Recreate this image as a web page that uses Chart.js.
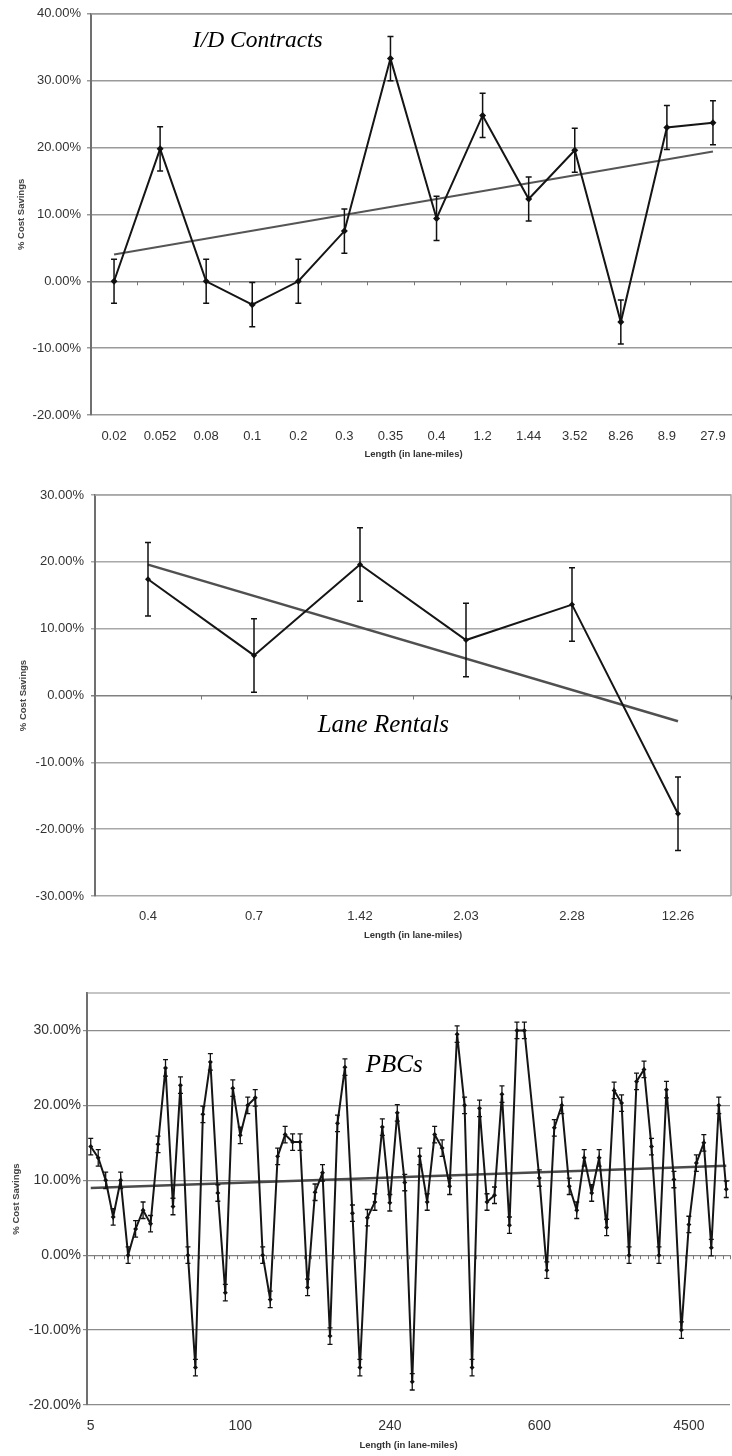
<!DOCTYPE html>
<html>
<head>
<meta charset="utf-8">
<title>% Cost Savings by Length</title>
<script src="https://cdn.jsdelivr.net/npm/chart.js@4.4.1/dist/chart.umd.min.js"></script>
<style>
  html, body { margin: 0; padding: 0; background: #fff; overflow: hidden; }
  .panel { position: absolute; left: 0; width: 732px; overflow: hidden; }
</style>
</head>
<body>
<div class="panel" style="top:0;height:464px"><canvas id="idChart" width="740" height="464"></canvas></div>
<div class="panel" style="top:480px;height:464px"><canvas id="laneChart" width="735" height="464"></canvas></div>
<div class="panel" style="top:975px;height:479px"><canvas id="pbcChart" width="734" height="479"></canvas></div>
<script>
// I/D contracts
const idCategories = ['0.02', '0.052', '0.08', '0.1', '0.2', '0.3', '0.35', '0.4', '1.2', '1.44', '3.52', '8.26', '8.9', '27.9'];
const idSavings = [0, 19.8, 0, -3.5, 0, 7.5, 33.3, 9.4, 24.8, 12.3, 19.6, -6.1, 23.0, 23.7];
const idErrorBar = 3.3;
const idYTicks = [-20, -10, 0, 10, 20, 30, 40];

// Lane rentals
const laneCategories = ['0.4', '0.7', '1.42', '2.03', '2.28', '12.26'];
const laneSavings = [17.4, 6.0, 19.6, 8.3, 13.6, -17.7];
const laneErrorBar = 5.5;
const laneYTicks = [-30, -20, -10, 0, 10, 20, 30];

// PBCs (only every 20th length is labelled on the axis)
const pbcTickLabels = ['5', '100', '240', '600', '4500'];
const pbcTickStep = 20;
const pbcSavings = [
  14.5, 13.0, 10.0, 5.1, 10.0, 0, 3.5, 6.0, 4.2, 14.8,
  25.0, 6.5, 22.7, 0, -15.0, 18.8, 25.8, 8.3, -5.0, 22.3,
  16.0, 20.0, 21.0, 0, -5.9, 13.2, 16.1, 15.1, 15.1, -4.3,
  8.4, 11.0, -10.8, 17.6, 25.1, 5.6, -15.0, 5.0, 7.1, 17.1,
  7.0, 19.0, 9.7, -16.9, 13.2, 7.1, 16.1, 14.3, 9.2, 29.5,
  20.0, -15.0, 19.6, 7.1, 8.0, 21.5, 4.0, 30.0, 30.0, null,
  10.3, -2.0, 17.0, 20.0, 9.2, 6.0, 13.0, 8.3, 13.0, 3.7,
  22.0, 20.3, 0, 23.2, 24.8, 14.5, 0, 22.1, 10.1, -10.0,
  4.1, 12.3, 15.0, 1.0, 20.0, 8.8
];
const pbcErrorBar = 1.1;
const pbcYTicks = [-20, -10, 0, 10, 20, 30];
const pbcCategories = pbcSavings.map((_, i) => i % pbcTickStep === 0 ? pbcTickLabels[i / pbcTickStep] : '');

// linear trendline over the category index, like Excel's; only the two ends are kept
function trendEnds(values) {
  const pts = values.map((v, i) => [i, v]).filter(p => p[1] != null);
  const n = pts.length;
  const mx = pts.reduce((s, p) => s + p[0], 0) / n;
  const my = pts.reduce((s, p) => s + p[1], 0) / n;
  let sxy = 0, sxx = 0;
  pts.forEach(([x, y]) => { sxy += (x - mx) * (y - my); sxx += (x - mx) * (x - mx); });
  const b = sxy / sxx, a = my - b * mx;
  return values.map((v, i) => (i === 0 || i === values.length - 1) ? a + b * i : null);
}

// error bars, frame, ticks on the zero line and the italic caption
const extras = {
  id: 'extras',
  beforeDatasetsDraw(chart, args, o) {
    const {ctx, chartArea: a, scales: {x, y}} = chart;
    ctx.save();
    ctx.strokeStyle = o.frameColor;
    ctx.lineWidth = o.frameWidth;
    ctx.beginPath();
    ctx.moveTo(a.left, a.top); ctx.lineTo(a.right, a.top);
    if (o.rightBorder) { ctx.lineTo(a.right, a.bottom); }
    ctx.stroke();
    const y0 = y.getPixelForValue(0);
    const step = x.getPixelForValue(1) - x.getPixelForValue(0);
    const n = chart.data.labels.length;
    ctx.strokeStyle = '#777';
    ctx.lineWidth = 1;
    ctx.beginPath();
    for (let i = 0; i <= n; i++) {
      const bx = Math.round(x.getPixelForValue(i) - step / 2) + 0.5;
      ctx.moveTo(bx, y0); ctx.lineTo(bx, y0 + 4);
    }
    ctx.stroke();
    ctx.restore();
  },
  afterDatasetsDraw(chart, args, o) {
    const {ctx, scales: {x, y}} = chart;
    const data = chart.data.datasets[0].data;
    ctx.save();
    ctx.strokeStyle = '#111';
    ctx.lineWidth = o.barWidth;
    ctx.beginPath();
    data.forEach((v, i) => {
      if (v == null) return;
      const px = x.getPixelForValue(i);
      const top = y.getPixelForValue(v + o.error);
      const bot = y.getPixelForValue(v - o.error);
      ctx.moveTo(px, top); ctx.lineTo(px, bot);
      ctx.moveTo(px - o.cap, top); ctx.lineTo(px + o.cap, top);
      ctx.moveTo(px - o.cap, bot); ctx.lineTo(px + o.cap, bot);
    });
    ctx.stroke();
    ctx.restore();
  },
  afterDraw(chart, args, o) {
    const {ctx, scales: {x, y}} = chart;
    ctx.save();
    ctx.font = 'italic ' + o.noteSize + 'px "Liberation Serif", "Times New Roman", serif';
    ctx.fillStyle = '#000';
    ctx.textAlign = 'center';
    ctx.textBaseline = 'alphabetic';
    ctx.fillText(o.note, x.getPixelForValue(o.noteAt[0]), y.getPixelForValue(o.noteAt[1]));
    ctx.restore();
  }
};

Chart.defaults.font.family = '"Liberation Sans", Arial, sans-serif';
Chart.defaults.color = '#333';

function makeChart(id, c) {
  return new Chart(document.getElementById(id), {
    type: 'line',
    data: {
      labels: c.categories,
      datasets: [
        {
          data: c.values,
          borderColor: '#151515',
          borderWidth: c.lineWidth,
          pointStyle: 'rectRot',
          pointRadius: c.pointRadius,
          pointBackgroundColor: '#111',
          pointBorderColor: '#111',
          pointBorderWidth: 0,
          spanGaps: true,
          tension: 0
        },
        {
          data: trendEnds(c.values),
          borderColor: c.trendColor,
          borderWidth: c.trendWidth,
          pointRadius: 0,
          spanGaps: true
        }
      ]
    },
    options: {
      responsive: false,
      animation: false,
      events: [],
      layout: { padding: { top: c.padTop, right: c.padRight, bottom: 0, left: 0 } },
      plugins: {
        legend: { display: false },
        tooltip: { enabled: false },
        extras: {
          error: c.error, cap: c.cap, barWidth: c.barWidth,
          frameColor: c.gridColor, frameWidth: c.gridWidth, rightBorder: c.rightBorder,
          note: c.note, noteAt: c.noteAt, noteSize: c.noteSize
        }
      },
      scales: {
        x: {
          type: 'category',
          offset: true,
          grid: { display: false },
          border: { display: false },
          ticks: { autoSkip: false, maxRotation: 0, padding: c.xTickPad, font: { size: c.tickSize }, color: '#333' },
          title: { display: true, text: 'Length (in lane-miles)', color: '#333',
                   font: { size: 9.5, weight: 'bold' }, padding: { top: 0, bottom: c.xTitlePad } },
          afterFit: s => { s.height = c.xHeight; }
        },
        y: {
          min: c.yMin,
          max: c.yMax,
          afterBuildTicks: s => { s.ticks = c.yTicks.map(v => ({ value: v })); },
          ticks: { callback: v => v.toFixed(2) + '%', padding: c.yTickPad, font: { size: c.tickSize }, color: '#333' },
          grid: {
            color: ctx => ctx.tick && ctx.tick.value === 0 ? '#808080' : c.gridColor,
            lineWidth: c.gridWidth,
            tickLength: 4
          },
          border: { color: '#707070', width: 2 },
          title: { display: true, text: '% Cost Savings', color: '#444',
                   font: { size: 9.5, weight: 'bold' }, padding: { top: c.yTitlePad, bottom: 0 } },
          afterFit: s => { s.width = c.yWidth; }
        }
      }
    },
    plugins: [extras]
  });
}

makeChart('idChart', {
  categories: idCategories, values: idSavings, error: idErrorBar, yTicks: idYTicks,
  yMin: -20, yMax: 40, padTop: 12, padRight: 0, yWidth: 91, xHeight: 49,
  xTickPad: 6, xTitlePad: 4, yTickPad: 6, yTitlePad: 16, tickSize: 13,
  lineWidth: 2, pointRadius: 3.5, trendColor: '#555', trendWidth: 2,
  gridColor: '#9a9a9a', gridWidth: 1.5, rightBorder: false, cap: 3, barWidth: 1.5,
  note: 'I/D Contracts', noteAt: [3.12, 35.0], noteSize: 23.5
});

makeChart('laneChart', {
  categories: laneCategories, values: laneSavings, error: laneErrorBar, yTicks: laneYTicks,
  yMin: -30, yMax: 30, padTop: 15, padRight: 0, yWidth: 95, xHeight: 48,
  xTickPad: 5, xTitlePad: 3, yTickPad: 7, yTitlePad: 18, tickSize: 13,
  lineWidth: 2, pointRadius: 3, trendColor: '#505050', trendWidth: 2.5,
  gridColor: '#a8a8a8', gridWidth: 1.5, rightBorder: true, cap: 3, barWidth: 1.5,
  note: 'Lane Rentals', noteAt: [2.22, -5.5], noteSize: 25
});

makeChart('pbcChart', {
  categories: pbcCategories, values: pbcSavings, error: pbcErrorBar, yTicks: pbcYTicks,
  yMin: -20, yMax: 35, padTop: 18, padRight: 0, yWidth: 87, xHeight: 49,
  xTickPad: 5, xTitlePad: 3, yTickPad: 2, yTitlePad: 11, tickSize: 14,
  lineWidth: 2, pointRadius: 2.5, trendColor: '#4a4a4a', trendWidth: 2.5,
  gridColor: '#8c8c8c', gridWidth: 1.2, rightBorder: false, cap: 2.5, barWidth: 1.3,
  note: 'PBCs', noteAt: [40.6, 24.4], noteSize: 25
});
</script>
</body>
</html>
